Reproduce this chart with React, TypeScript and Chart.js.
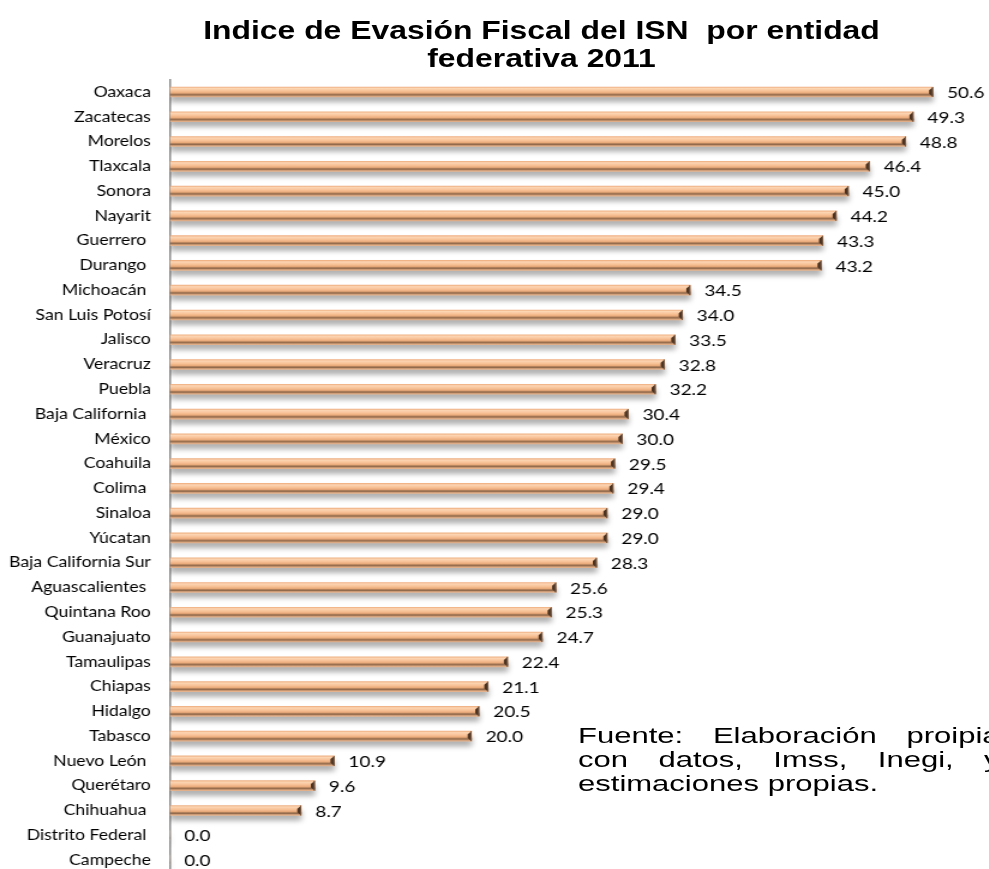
import React, { useEffect, useRef } from "react";
import { Chart, registerables } from "chart.js";

Chart.register(...registerables);

// ---- data ----
const states: string[] = [
  "Oaxaca",
  "Zacatecas",
  "Morelos",
  "Tlaxcala",
  "Sonora",
  "Nayarit",
  "Guerrero ",
  "Durango ",
  "Michoacán ",
  "San Luis Potosí",
  "Jalisco",
  "Veracruz",
  "Puebla",
  "Baja California ",
  "México",
  "Coahuila",
  "Colima ",
  "Sinaloa",
  "Yúcatan",
  "Baja California Sur",
  "Aguascalientes ",
  "Quintana Roo",
  "Guanajuato",
  "Tamaulipas",
  "Chiapas",
  "Hidalgo",
  "Tabasco",
  "Nuevo León ",
  "Querétaro",
  "Chihuahua ",
  "Distrito Federal ",
  "Campeche",
];

const evasionIndex: number[] = [
  50.6, 49.3, 48.8, 46.4, 45.0, 44.2, 43.3, 43.2, 34.5, 34.0, 33.5, 32.8, 32.2,
  30.4, 30.0, 29.5, 29.4, 29.0, 29.0, 28.3, 25.6, 25.3, 24.7, 22.4, 21.1, 20.5,
  20.0, 10.9, 9.6, 8.7, 0.0, 0.0,
];

const titleLines: string[] = [
  "Indice de Evasión Fiscal del ISN  por entidad",
  "federativa 2011",
];

const sourceNote =
  "Fuente: Elaboración proipia con datos, Imss, Inegi, y estimaciones propias.";

// ---- layout ----
const STRETCH = 1.2;
const W = 824;
const H = 880;

const shadowPlugin = {
  id: "barShadow",
  beforeDatasetsDraw(chart: any) {
    const ctx = chart.ctx;
    ctx.save();
    ctx.shadowColor = "rgba(0,0,0,0.30)";
    ctx.shadowBlur = 5;
    ctx.shadowOffsetX = 0;
    ctx.shadowOffsetY = 5;
  },
  afterDatasetsDraw(chart: any) {
    chart.ctx.restore();
  },
};

const capAndLabelPlugin = {
  id: "capAndLabel",
  afterDatasetsDraw(chart: any) {
    const ctx = chart.ctx;
    const meta = chart.getDatasetMeta(0);
    const data = chart.data.datasets[0].data as number[];
    ctx.save();
    meta.data.forEach((el: any, i: number) => {
      const v = data[i];
      const x = el.x;
      const y = el.y;
      const h = 5;
      if (v > 0) {
        ctx.fillStyle = "#4a3323";
        ctx.beginPath();
        ctx.moveTo(x, y - h);
        ctx.lineTo(x, y + h);
        ctx.lineTo(x - 3.3, y + 1.8);
        ctx.lineTo(x - 3.3, y - 1.8);
        ctx.closePath();
        ctx.fill();
        ctx.fillStyle = "#7a5a42";
        ctx.fillRect(x - 0.9, y - h, 0.9, 2 * h);
      }
      ctx.fillStyle = "#000";
      ctx.font = "15.8px Lato, 'Open Sans', sans-serif";
      ctx.textAlign = "left";
      ctx.textBaseline = "middle";
      ctx.fillText(v.toFixed(1), x + 11.7, y + 1);
    });
    ctx.restore();
  },
};

export default function App() {
  const ref = useRef<HTMLCanvasElement>(null);

  useEffect(() => {
    const canvas = ref.current;
    if (!canvas) return;

    const barFill = (c: any) => {
      const chart = c.chart;
      const yScale = chart.scales && chart.scales.y;
      if (!yScale || c.dataIndex === undefined) return "#F4B183";
      const yc = yScale.getPixelForValue(c.dataIndex);
      if (!Number.isFinite(yc)) return "#F4B183";
      const g = chart.ctx.createLinearGradient(0, yc - 5, 0, yc + 5);
      g.addColorStop(0, "#f0b184");
      g.addColorStop(0.15, "#fcd5b3");
      g.addColorStop(0.4, "#f8c196");
      g.addColorStop(0.6, "#eaab7b");
      g.addColorStop(0.72, "#a87a57");
      g.addColorStop(0.8, "#926a4c");
      g.addColorStop(0.9, "#cc9b75");
      g.addColorStop(1, "#e6b48e");
      return g;
    };

    const chart = new Chart(canvas, {
      type: "bar",
      data: {
        labels: states,
        datasets: [
          {
            data: evasionIndex,
            backgroundColor: barFill,
            borderWidth: 0,
            barThickness: 10,
          },
        ],
      },
      options: {
        indexAxis: "y",
        responsive: false,
        animation: false,
        devicePixelRatio: 1,
        layout: { padding: { top: 79.6, bottom: 7.6, left: 0, right: 0 } },
        plugins: {
          legend: { display: false },
          tooltip: { enabled: false },
          title: { display: false },
        },
        scales: {
          x: { display: false, min: 0, max: 54.3 },
          y: {
            grid: { display: false, drawTicks: false },
            border: { display: true, color: "#8a8a8a", width: 1.5 },
            ticks: {
              color: "#000",
              padding: 16,
              autoSkip: false,
              font: { family: "Lato, 'Open Sans', sans-serif", size: 14.7 },
            },
            afterFit: (s: any) => {
              s.width = 141.7;
              s.paddingTop = 0;
              s.paddingBottom = 0;
            },
          },
        },
      } as any,
      plugins: [shadowPlugin, capAndLabelPlugin],
    });
    return () => chart.destroy();
  }, []);

  return (
    <div
      style={{
        position: "fixed",
        left: 0,
        top: 0,
        width: 989,
        height: 869,
        overflow: "hidden",
        background: "#fff",
      }}
    >
      <div
        style={{
          position: "absolute",
          left: 0,
          top: 0,
          width: W,
          height: H,
          transform: `scaleX(${STRETCH})`,
          transformOrigin: "0 0",
        }}
      >
        <canvas
          ref={ref}
          width={W}
          height={H}
          style={{ width: W, height: H, display: "block" }}
        />
      </div>
      <div
        style={{
          position: "absolute",
          left: 0,
          top: 16,
          width: 1083,
          textAlign: "center",
          fontFamily: "'Liberation Sans', Arial, sans-serif",
          fontWeight: "bold",
          fontSize: 25,
          lineHeight: "28px",
          whiteSpace: "pre",
          color: "#000",
          transform: "scaleX(1.275)",
          transformOrigin: "541.5px 0",
        }}
      >
        {titleLines.map((t, i) => (
          <div key={i}>{t}</div>
        ))}
      </div>
      <div
        style={{
          position: "absolute",
          left: 578,
          top: 724,
          width: 299,
          textAlign: "justify",
          fontFamily: "'Liberation Sans', Arial, sans-serif",
          fontSize: 22,
          lineHeight: "24px",
          color: "#000",
          transform: "scaleX(1.41)",
          transformOrigin: "0 0",
        }}
      >
        {sourceNote}
      </div>
    </div>
  );
}
